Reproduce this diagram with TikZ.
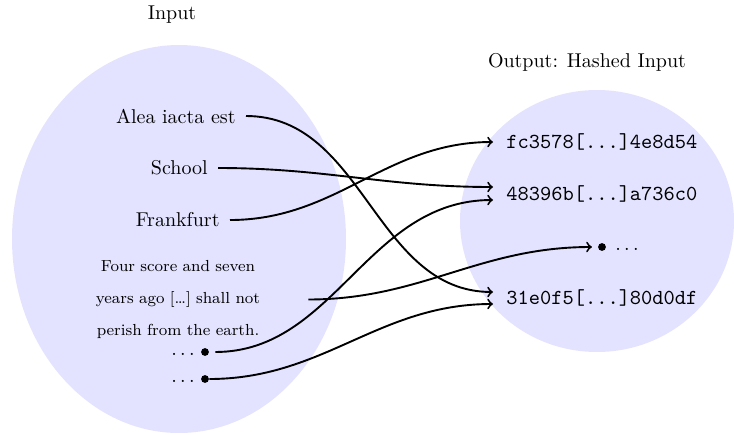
\documentclass[tikz,border=0pt]{standalone}
\usepackage{fontspec}
\begin{document}
\begin{tikzpicture}[x=0.5pt,y=0.5pt,
  setfill/.style={fill=blue!11},
  heading/.style={font=\normalsize},
  src/.style={inner sep=5pt},
  para/.style={inner sep=0pt, text width=130pt, align=center, font=\footnotesize},
  hash/.style={inner sep=6.5pt, font=\fontsize{10.7}{13}\selectfont\ttfamily},
  dotmark/.style={circle, fill=black, inner sep=0pt, minimum size=3.9pt},
  arr/.style={->, line width=0.95pt}]
  \useasboundingbox (0,0) rectangle (734,-434);

  % the two sets
  \fill[setfill] (179,-239) ellipse [x radius=167, y radius=194];
  \fill[setfill] (597,-221) ellipse [x radius=137, y radius=131];

  % headings
  \node[heading] (tin) at (172,-15) {Input};
  \node[heading] (tout) at (587,-62) {Output: Hashed Input};

  % inputs
  \node[src, anchor=east] (alea) at (246,-116) {Alea iacta est};
  \node[src, anchor=east] (school) at (218,-168) {School};
  \node[src, anchor=east] (frank) at (230,-220) {Frankfurt};
  \node[para] (gett) at (178,-299.5)
    {Four\ score\ and\ seven\\[6.5pt]years ago […] shall not\\[6.5pt]perish\ from\ the\ earth.};
  \node[anchor=base] (e1) at (183,-355) {.\,.\,.};
  \node[dotmark] (d1) at (205,-352) {};
  \node[anchor=base] (e2) at (183,-382) {.\,.\,.};
  \node[dotmark] (d2) at (205,-379) {};

  % hashes
  \node[hash, anchor=west] (h1) at (493,-142) {fc3578[...]4e8d54};
  \node[hash, anchor=west] (h2) at (493,-193.5) {48396b[...]a736c0};
  \node[dotmark, outer sep=3.1pt] (h3) at (602,-247) {};
  \node[anchor=base] (e3) at (627,-250) {.\,.\,.};
  \node[hash, anchor=west] (h4) at (493,-298) {31e0f5[...]80d0df};

  % mapping
  \draw[arr] (alea.east) to[out=0,in=180] ([yshift=3pt]h4.west);
  \draw[arr] (school.east) to[out=0,in=180] ([yshift=3.25pt]h2.west);
  \draw[arr] (frank.east) to[out=0,in=180] (h1.west);
  \draw[arr, shorten <=3pt] (d1.east) to[out=0,in=180] ([yshift=-3.25pt]h2.west);
  \draw[arr] (gett.east) to[out=0,in=180] (h3.west);
  \draw[arr] (d2.east) to[out=0,in=180] ([yshift=-3pt]h4.west);
\end{tikzpicture}
\end{document}
